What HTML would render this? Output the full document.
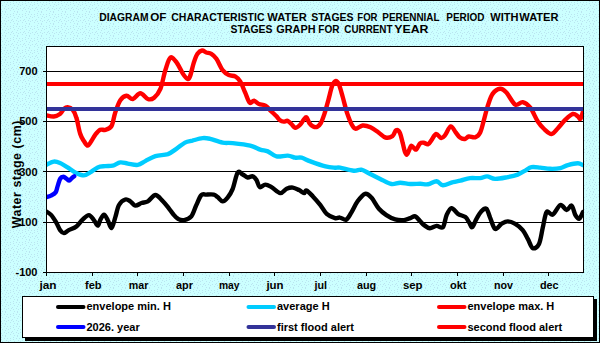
<!DOCTYPE html>
<html><head><meta charset="utf-8"><style>
html,body{margin:0;padding:0;width:600px;height:343px;overflow:hidden;background:#fff}
svg{display:block}
text{font-family:"Liberation Sans",sans-serif;font-weight:bold}
</style></head><body>
<svg width="600" height="343" viewBox="0 0 600 343">
<defs>
<pattern id="dots" width="12" height="12" patternUnits="userSpaceOnUse">
<rect width="12" height="12" fill="#CCFFFF"/>
<rect x="5" y="0" width="1" height="1" fill="#BAE4F0"/><rect x="1" y="1" width="1" height="1" fill="#BAE4F0"/><rect x="4" y="2" width="1" height="1" fill="#BAE4F0"/><rect x="7" y="2" width="1" height="1" fill="#BAE4F0"/><rect x="10" y="2" width="1" height="1" fill="#BAE4F0"/><rect x="1" y="3" width="1" height="1" fill="#BAE4F0"/><rect x="6" y="4" width="1" height="1" fill="#BAE4F0"/><rect x="10" y="4" width="1" height="1" fill="#BAE4F0"/><rect x="2" y="5" width="1" height="1" fill="#BAE4F0"/><rect x="8" y="5" width="1" height="1" fill="#BAE4F0"/><rect x="5" y="6" width="1" height="1" fill="#BAE4F0"/><rect x="0" y="7" width="1" height="1" fill="#BAE4F0"/><rect x="4" y="8" width="1" height="1" fill="#BAE4F0"/><rect x="8" y="8" width="1" height="1" fill="#BAE4F0"/><rect x="11" y="8" width="1" height="1" fill="#BAE4F0"/><rect x="1" y="9" width="1" height="1" fill="#BAE4F0"/><rect x="6" y="9" width="1" height="1" fill="#BAE4F0"/><rect x="10" y="10" width="1" height="1" fill="#BAE4F0"/><rect x="2" y="11" width="1" height="1" fill="#BAE4F0"/><rect x="5" y="11" width="1" height="1" fill="#BAE4F0"/>
</pattern>
<clipPath id="plot"><rect x="46" y="46" width="537" height="226"/></clipPath>
</defs>
<rect x="0" y="0" width="600" height="343" fill="url(#dots)"/>
<rect x="0.5" y="0.5" width="599" height="342" fill="none" stroke="#000" stroke-width="1"/>
<g font-size="10.5" fill="#000">
<text x="99.30" y="20.5" textLength="49.20" lengthAdjust="spacingAndGlyphs">DIAGRAM</text>
<text x="150.30" y="20.5" textLength="16.20" lengthAdjust="spacingAndGlyphs">OF</text>
<text x="171.30" y="20.5" textLength="93.20" lengthAdjust="spacingAndGlyphs">CHARACTERISTIC</text>
<text x="267.30" y="20.5" textLength="39.40" lengthAdjust="spacingAndGlyphs">WATER</text>
<text x="311.30" y="20.5" textLength="42.20" lengthAdjust="spacingAndGlyphs">STAGES</text>
<text x="357.30" y="20.5" textLength="20.20" lengthAdjust="spacingAndGlyphs">FOR</text>
<text x="382.30" y="20.5" textLength="57.20" lengthAdjust="spacingAndGlyphs">PERENNIAL</text>
<text x="446.30" y="20.5" textLength="38.20" lengthAdjust="spacingAndGlyphs">PERIOD</text>
<text x="490.30" y="20.5" textLength="28.20" lengthAdjust="spacingAndGlyphs">WITH</text>
<text x="519.30" y="20.5" textLength="39.20" lengthAdjust="spacingAndGlyphs">WATER</text>
<text x="230.50" y="32.5" textLength="42.00" lengthAdjust="spacingAndGlyphs">STAGES</text>
<text x="276.30" y="32.5" textLength="39.20" lengthAdjust="spacingAndGlyphs">GRAPH</text>
<text x="318.30" y="32.5" textLength="21.20" lengthAdjust="spacingAndGlyphs">FOR</text>
<text x="344.30" y="32.5" textLength="48.20" lengthAdjust="spacingAndGlyphs">CURRENT</text>
<text x="394.30" y="32.5" textLength="34.20" lengthAdjust="spacingAndGlyphs">YEAR</text>

</g>
<rect x="46" y="46" width="537" height="226" fill="#fff"/>
<line x1="46" y1="71.5" x2="583" y2="71.5" stroke="#000" stroke-width="1"/>
<line x1="43" y1="71.5" x2="46" y2="71.5" stroke="#000" stroke-width="1"/>
<line x1="46" y1="121.5" x2="583" y2="121.5" stroke="#000" stroke-width="1"/>
<line x1="43" y1="121.5" x2="46" y2="121.5" stroke="#000" stroke-width="1"/>
<line x1="46" y1="171.5" x2="583" y2="171.5" stroke="#000" stroke-width="1"/>
<line x1="43" y1="171.5" x2="46" y2="171.5" stroke="#000" stroke-width="1"/>
<line x1="46" y1="222.5" x2="583" y2="222.5" stroke="#000" stroke-width="1"/>
<line x1="43" y1="222.5" x2="46" y2="222.5" stroke="#000" stroke-width="1"/>
<line x1="43" y1="272.5" x2="46" y2="272.5" stroke="#000" stroke-width="1"/>

<g clip-path="url(#plot)" fill="none" stroke-linejoin="round" stroke-linecap="round" stroke-width="4.4">
<path d="M46.0 211.3 C46.9 211.9 49.6 213.2 51.3 215.1 C53.0 217.0 54.8 220.1 56.3 222.6 C57.8 225.1 58.9 228.3 60.1 230.1 C61.4 231.8 62.3 233.1 63.8 233.1 C65.2 233.1 66.7 231.2 68.8 230.1 C70.9 229.0 74.1 228.2 76.4 226.4 C78.7 224.7 80.5 221.5 82.6 219.6 C84.7 217.7 87.0 215.0 88.9 215.1 C90.8 215.2 92.4 218.3 93.9 220.1 C95.4 221.8 96.7 225.6 97.7 225.6 C98.8 225.6 99.2 221.9 100.2 220.1 C101.2 218.3 102.8 214.6 104.0 214.6 C105.2 214.6 106.5 217.8 107.7 220.1 C109.0 222.3 110.2 228.5 111.5 228.1 C112.8 227.7 114.0 221.4 115.2 217.6 C116.5 213.8 117.3 208.0 119.0 205.0 C120.7 202.0 123.4 200.1 125.3 199.5 C127.2 198.9 128.6 200.3 130.3 201.3 C132.0 202.3 133.4 205.3 135.3 205.6 C137.2 205.9 139.5 203.7 141.6 203.0 C143.7 202.3 145.6 202.6 147.9 201.3 C150.2 200.0 152.9 195.0 155.4 195.0 C157.9 195.0 160.6 199.0 162.9 201.3 C165.2 203.6 167.5 206.7 169.2 208.8 C170.9 210.9 171.4 212.1 172.9 213.8 C174.4 215.5 176.1 217.8 178.0 218.8 C179.9 219.9 182.0 220.5 184.2 220.1 C186.4 219.7 189.3 218.9 191.3 216.4 C193.3 213.9 194.6 208.7 196.3 205.1 C198.0 201.5 199.6 196.8 201.3 195.1 C203.0 193.3 204.2 194.7 206.3 194.6 C208.4 194.5 211.9 194.2 213.8 194.6 C215.7 195.0 216.1 196.0 217.6 197.1 C219.1 198.2 220.9 201.3 222.6 201.4 C224.3 201.5 225.9 199.7 227.6 197.6 C229.3 195.5 231.0 193.0 232.7 188.8 C234.4 184.6 236.0 174.9 237.7 172.5 C239.4 170.1 241.0 173.7 242.7 174.5 C244.4 175.3 246.0 177.2 247.7 177.5 C249.4 177.8 251.2 175.9 252.7 176.3 C254.2 176.7 255.3 178.2 256.5 180.0 C257.7 181.8 258.2 186.3 259.7 187.1 C261.2 187.9 263.3 184.6 265.3 184.6 C267.3 184.6 269.0 185.7 271.5 187.1 C274.0 188.5 277.8 192.8 280.3 193.1 C282.8 193.4 284.5 189.7 286.6 188.8 C288.7 187.9 290.7 187.4 292.8 187.6 C294.9 187.8 297.2 189.2 299.1 190.1 C301.0 191.0 302.9 193.0 304.1 193.1 C305.4 193.2 305.1 190.0 306.6 190.6 C308.1 191.2 310.6 194.0 312.9 196.4 C315.2 198.8 318.1 202.2 320.4 205.1 C322.7 208.0 324.3 211.7 326.7 213.9 C329.1 216.1 332.8 217.5 335.0 218.1 C337.2 218.7 338.1 217.3 340.0 217.6 C341.9 217.8 344.4 220.4 346.3 219.6 C348.2 218.8 349.4 215.6 351.3 212.6 C353.2 209.6 355.3 204.4 357.6 201.3 C359.9 198.2 362.8 194.4 365.1 193.8 C367.4 193.2 369.1 195.1 371.4 197.6 C373.7 200.1 376.4 205.9 378.9 208.8 C381.4 211.7 383.7 213.3 386.4 215.1 C389.1 216.9 392.3 218.6 395.2 219.4 C398.1 220.2 401.5 220.3 404.0 220.1 C406.5 219.9 408.4 218.7 410.3 218.1 C412.2 217.5 413.6 215.8 415.3 216.4 C417.0 217.0 418.8 220.0 420.3 221.4 C421.8 222.8 422.5 224.0 424.1 225.1 C425.7 226.2 427.7 228.1 429.8 228.2 C431.9 228.3 434.4 226.1 436.6 225.9 C438.8 225.7 441.2 229.0 442.9 227.2 C444.6 225.4 445.2 218.3 446.6 215.1 C448.1 211.9 449.7 208.3 451.6 208.1 C453.5 207.9 455.6 212.4 457.9 213.9 C460.2 215.4 463.5 215.7 465.4 217.1 C467.3 218.5 468.0 220.9 469.2 222.6 C470.4 224.3 471.1 227.7 472.3 227.1 C473.5 226.5 475.0 221.4 476.5 218.8 C478.0 216.2 479.8 213.0 481.4 211.3 C483.0 209.6 484.9 207.8 486.4 208.8 C487.8 209.9 488.7 214.2 490.1 217.6 C491.6 220.9 493.2 227.8 495.1 228.9 C497.0 230.0 499.3 225.2 501.4 223.9 C503.5 222.7 505.4 221.4 507.7 221.4 C510.0 221.4 512.7 222.5 515.2 223.9 C517.7 225.3 520.6 227.6 522.7 230.1 C524.8 232.6 526.1 235.9 527.8 238.9 C529.5 241.9 530.9 247.4 532.8 248.2 C534.7 249.0 537.3 247.3 539.0 243.9 C540.7 240.5 541.5 232.9 542.8 227.6 C544.1 222.3 544.9 214.3 546.6 212.1 C548.3 209.9 550.5 215.8 552.8 214.6 C555.1 213.4 558.1 205.8 560.4 205.0 C562.7 204.2 564.7 210.0 566.6 210.1 C568.5 210.2 570.1 204.8 571.6 205.6 C573.1 206.4 574.1 212.9 575.4 215.1 C576.7 217.3 577.9 219.3 579.2 218.8 C580.5 218.3 582.4 213.2 583.0 212.1" stroke="#000"/>
<path d="M46.0 164.9 C47.3 164.3 51.5 161.9 53.8 161.6 C56.1 161.3 57.7 162.0 60.0 163.0 C62.3 164.0 65.1 165.8 67.6 167.4 C70.1 169.0 72.4 171.1 75.1 172.4 C77.8 173.7 81.4 175.4 83.9 175.4 C86.4 175.4 87.9 173.7 90.2 172.4 C92.5 171.1 95.2 168.5 97.7 167.4 C100.2 166.3 102.7 166.4 105.2 166.1 C107.7 165.8 110.2 166.2 112.7 165.6 C115.2 165.0 117.8 162.7 120.3 162.4 C122.8 162.1 124.9 163.2 127.8 163.6 C130.7 164.0 134.9 165.3 137.8 164.9 C140.7 164.5 142.4 162.6 145.3 161.1 C148.2 159.6 151.6 157.3 155.4 156.1 C159.2 154.9 164.4 155.3 167.9 154.1 C171.4 152.8 173.8 150.5 176.7 148.6 C179.5 146.7 182.4 143.9 185.0 142.6 C187.6 141.3 189.6 141.3 192.5 140.6 C195.4 139.8 199.7 138.4 202.6 138.1 C205.5 137.8 206.8 138.1 210.1 138.8 C213.4 139.6 218.8 141.9 222.6 142.6 C226.4 143.3 228.1 142.6 232.7 143.1 C237.3 143.6 245.6 144.5 250.2 145.6 C254.8 146.7 257.3 148.6 260.2 149.6 C263.1 150.6 265.1 150.3 267.8 151.4 C270.5 152.5 273.2 155.7 276.5 156.4 C279.8 157.1 284.7 155.4 287.8 155.6 C290.9 155.8 293.1 157.3 295.4 157.7 C297.7 158.0 299.1 157.1 301.6 157.7 C304.1 158.3 306.4 159.9 310.4 161.4 C314.4 162.9 321.4 165.4 325.5 166.4 C329.6 167.4 332.6 167.5 335.0 167.7 C337.4 167.9 336.9 167.2 340.0 167.7 C343.1 168.2 350.2 170.4 353.8 170.7 C357.4 171.0 358.7 169.2 361.4 169.7 C364.1 170.2 367.0 172.4 370.1 173.9 C373.2 175.4 376.6 177.2 380.2 178.9 C383.8 180.6 388.2 183.4 391.5 184.0 C394.8 184.6 397.1 182.7 400.2 182.7 C403.3 182.7 406.9 183.8 410.3 184.0 C413.7 184.2 417.4 183.8 420.3 183.8 C423.2 183.9 425.3 184.7 428.0 184.3 C430.7 183.9 434.1 181.2 436.6 181.3 C439.1 181.5 440.2 185.0 442.9 185.2 C445.6 185.3 450.0 182.9 452.9 182.2 C455.8 181.4 457.5 181.4 460.4 180.7 C463.3 180.0 466.8 178.5 470.1 178.1 C473.4 177.7 477.3 178.4 480.1 178.1 C482.9 177.8 484.6 176.3 487.1 176.4 C489.6 176.5 491.7 178.8 495.1 178.9 C498.5 179.0 503.9 177.8 507.7 177.1 C511.5 176.4 514.8 175.7 517.7 174.6 C520.6 173.5 522.9 171.8 525.2 170.6 C527.5 169.3 529.0 167.6 531.5 167.1 C534.0 166.6 537.2 167.3 540.3 167.6 C543.4 167.9 546.9 168.7 550.3 168.8 C553.6 168.9 557.5 168.7 560.4 168.1 C563.3 167.5 565.0 165.9 567.9 165.1 C570.8 164.3 575.4 163.3 577.9 163.3 C580.4 163.3 582.1 164.8 583.0 165.1" stroke="#00CCFF"/>
<path d="M46.0 115.2 C47.3 115.4 51.5 116.7 53.8 116.5 C56.1 116.3 58.3 115.2 60.0 114.0 C61.7 112.8 62.5 110.1 63.8 109.0 C65.1 107.9 66.1 107.1 67.6 107.2 C69.1 107.3 71.1 107.9 72.6 109.7 C74.1 111.5 75.2 113.8 76.4 117.8 C77.7 121.8 78.8 129.6 80.1 133.5 C81.3 137.4 82.6 139.0 83.9 141.0 C85.2 143.0 86.5 145.6 87.7 145.6 C89.0 145.6 90.2 142.8 91.4 141.0 C92.7 139.2 93.7 136.7 95.2 134.8 C96.7 132.9 98.5 130.6 100.2 129.8 C101.9 129.0 103.3 130.4 105.2 129.8 C107.1 129.2 109.8 128.8 111.5 126.0 C113.2 123.2 113.7 117.0 115.2 112.7 C116.7 108.4 118.4 103.0 120.3 100.2 C122.2 97.4 124.4 95.9 126.5 95.7 C128.6 95.5 130.5 99.4 132.8 99.0 C135.1 98.6 137.8 93.2 140.3 93.2 C142.8 93.2 145.5 98.2 147.8 99.0 C150.1 99.8 152.0 99.4 154.1 97.7 C156.2 96.0 158.5 93.5 160.4 88.9 C162.3 84.3 163.7 75.2 165.4 70.0 C167.1 64.8 168.5 58.8 170.4 57.6 C172.3 56.4 174.6 59.9 176.7 62.6 C178.8 65.3 181.2 71.2 183.0 73.9 C184.8 76.6 186.3 78.5 187.5 78.9 C188.7 79.3 188.9 79.1 190.0 76.4 C191.1 73.7 192.6 66.4 193.8 62.6 C195.1 58.8 196.1 55.8 197.5 53.8 C198.9 51.8 200.6 50.7 202.1 50.5 C203.6 50.3 204.8 52.0 206.3 52.5 C207.8 53.0 209.6 52.8 211.3 53.8 C213.0 54.8 214.5 56.1 216.4 58.8 C218.3 61.5 220.5 67.4 222.6 70.1 C224.7 72.8 226.8 74.0 228.9 75.1 C231.0 76.1 233.3 75.4 235.2 76.4 C237.1 77.5 238.5 78.7 240.2 81.4 C241.9 84.1 243.6 89.2 245.2 92.7 C246.8 96.2 248.2 101.4 249.7 102.7 C251.2 104.0 252.4 100.5 254.0 100.7 C255.6 100.9 257.1 103.2 259.0 104.0 C260.9 104.8 263.2 104.5 265.3 105.7 C267.4 107.0 269.6 109.7 271.5 111.5 C273.4 113.3 275.1 114.8 276.5 116.3 C277.9 117.8 278.8 119.3 280.0 120.2 C281.2 121.1 282.5 121.5 283.8 121.6 C285.1 121.7 286.3 120.4 287.6 120.8 C288.9 121.2 290.1 122.8 291.4 124.0 C292.7 125.2 293.8 127.6 295.2 127.8 C296.6 128.0 298.5 126.3 299.9 125.0 C301.3 123.7 302.6 121.0 303.7 119.7 C304.8 118.4 305.6 116.8 306.5 117.4 C307.4 118.0 308.3 121.6 309.4 123.1 C310.5 124.6 311.9 125.9 313.2 126.5 C314.5 127.1 315.7 127.5 317.0 126.9 C318.3 126.3 319.6 125.3 320.8 123.1 C322.1 120.9 323.2 117.4 324.5 113.6 C325.8 109.8 327.0 104.9 328.3 100.3 C329.6 95.7 330.9 89.3 332.1 86.1 C333.3 82.9 334.3 81.3 335.4 81.0 C336.5 80.7 337.6 81.6 338.8 84.2 C340.0 86.8 341.2 91.6 342.6 96.5 C344.0 101.4 345.7 108.8 347.3 113.6 C348.9 118.3 350.6 122.5 352.0 125.0 C353.4 127.5 354.0 128.7 355.8 128.8 C357.6 128.9 360.2 125.8 362.6 125.5 C365.1 125.2 367.9 126.1 370.5 127.3 C373.1 128.5 376.0 130.8 378.5 132.5 C381.0 134.2 383.2 136.9 385.5 137.5 C387.8 138.1 390.6 137.3 392.4 136.1 C394.1 134.9 394.8 130.9 396.0 130.3 C397.2 129.7 398.6 130.4 399.7 132.5 C400.8 134.6 401.8 139.5 402.6 142.7 C403.5 145.8 404.1 149.4 404.8 151.4 C405.5 153.4 406.3 154.9 407.0 154.7 C407.7 154.5 408.5 151.5 409.2 150.0 C409.9 148.5 410.4 145.8 411.3 145.6 C412.2 145.3 413.5 147.9 414.3 148.5 C415.1 149.1 415.4 150.2 416.4 149.3 C417.4 148.5 418.9 144.5 420.1 143.4 C421.3 142.3 422.4 142.6 423.7 142.7 C425.0 142.8 426.8 144.7 428.1 144.2 C429.4 143.7 430.4 141.5 431.7 139.8 C433.0 138.1 434.5 134.3 436.1 134.0 C437.7 133.7 439.7 137.8 441.2 138.0 C442.7 138.2 443.3 137.3 444.9 135.4 C446.5 133.5 448.9 126.9 450.7 126.4 C452.5 125.9 454.2 130.6 455.8 132.5 C457.4 134.4 458.5 136.5 460.0 137.6 C461.5 138.7 463.5 139.2 465.0 139.0 C466.5 138.8 467.1 136.8 468.8 136.5 C470.5 136.2 473.2 137.9 475.1 137.3 C477.0 136.7 478.6 135.5 480.1 132.7 C481.6 129.8 482.6 124.6 483.9 120.2 C485.1 115.8 486.2 110.8 487.6 106.4 C489.1 102.0 490.5 96.8 492.6 93.9 C494.7 91.0 497.9 89.0 500.2 88.8 C502.5 88.6 503.9 90.0 506.4 92.6 C508.9 95.2 512.5 103.0 515.2 104.6 C517.9 106.2 520.2 101.6 522.7 102.1 C525.2 102.6 527.8 104.5 530.3 107.7 C532.8 110.9 535.5 118.0 537.8 121.5 C540.1 125.0 541.8 126.9 544.1 129.0 C546.4 131.1 549.3 134.1 551.6 134.0 C553.9 133.9 555.6 130.6 557.9 128.2 C560.2 125.8 562.9 122.1 565.4 119.7 C567.9 117.3 570.8 114.5 572.9 113.9 C575.0 113.4 576.6 115.6 577.9 116.4 C579.1 117.2 579.5 119.7 580.4 118.9 C581.2 118.1 582.6 112.7 583.0 111.4" stroke="#FF0000"/>
<path d="M46.0 197.3 C46.8 197.0 49.4 196.4 51.0 195.6 C52.6 194.8 54.6 194.0 55.7 192.3 C56.8 190.6 57.0 187.9 57.8 185.6 C58.6 183.3 59.3 180.0 60.3 178.5 C61.2 177.0 62.5 176.8 63.5 176.8 C64.5 176.8 65.5 178.0 66.4 178.6 C67.4 179.2 68.3 180.6 69.2 180.6 C70.1 180.6 70.8 179.0 71.6 178.3 C72.4 177.6 73.8 176.6 74.2 176.3" stroke="#0000FF"/>
<line x1="46" y1="109" x2="583" y2="109" stroke="#333399" stroke-width="4" stroke-linecap="butt"/>
<line x1="46" y1="84" x2="583" y2="84" stroke="#FF0000" stroke-width="4" stroke-linecap="butt"/>
</g>
<rect x="46.5" y="46.5" width="537" height="226" fill="none" stroke="#000" stroke-width="1"/>
<line x1="46.5" y1="272" x2="46.5" y2="276" stroke="#000" stroke-width="1"/>
<line x1="92.5" y1="272" x2="92.5" y2="276" stroke="#000" stroke-width="1"/>
<line x1="137.5" y1="272" x2="137.5" y2="276" stroke="#000" stroke-width="1"/>
<line x1="183.5" y1="272" x2="183.5" y2="276" stroke="#000" stroke-width="1"/>
<line x1="229.5" y1="272" x2="229.5" y2="276" stroke="#000" stroke-width="1"/>
<line x1="274.5" y1="272" x2="274.5" y2="276" stroke="#000" stroke-width="1"/>
<line x1="320.5" y1="272" x2="320.5" y2="276" stroke="#000" stroke-width="1"/>
<line x1="366.5" y1="272" x2="366.5" y2="276" stroke="#000" stroke-width="1"/>
<line x1="411.5" y1="272" x2="411.5" y2="276" stroke="#000" stroke-width="1"/>
<line x1="457.5" y1="272" x2="457.5" y2="276" stroke="#000" stroke-width="1"/>
<line x1="503.5" y1="272" x2="503.5" y2="276" stroke="#000" stroke-width="1"/>
<line x1="548.5" y1="272" x2="548.5" y2="276" stroke="#000" stroke-width="1"/>

<g font-size="11" fill="#000">
<text x="37.5" y="75" text-anchor="end">700</text>
<text x="37.5" y="125" text-anchor="end">500</text>
<text x="37.5" y="176" text-anchor="end">300</text>
<text x="37.5" y="226" text-anchor="end">100</text>
<text x="37.5" y="276" text-anchor="end">-100</text>

<text x="39.50" y="289" textLength="17.10" lengthAdjust="spacingAndGlyphs">jan</text>
<text x="85.00" y="289" textLength="16.60" lengthAdjust="spacingAndGlyphs">feb</text>
<text x="128.80" y="289" textLength="19.60" lengthAdjust="spacingAndGlyphs">mar</text>
<text x="176.00" y="289" textLength="16.90" lengthAdjust="spacingAndGlyphs">apr</text>
<text x="218.90" y="289" textLength="20.60" lengthAdjust="spacingAndGlyphs">may</text>
<text x="266.40" y="289" textLength="17.20" lengthAdjust="spacingAndGlyphs">jun</text>
<text x="314.60" y="289" textLength="12.52" lengthAdjust="spacingAndGlyphs">jul</text>
<text x="356.90" y="289" textLength="19.20" lengthAdjust="spacingAndGlyphs">aug</text>
<text x="402.92" y="289" textLength="19.70" lengthAdjust="spacingAndGlyphs">sep</text>
<text x="449.90" y="289" textLength="16.60" lengthAdjust="spacingAndGlyphs">okt</text>
<text x="493.90" y="289" textLength="19.00" lengthAdjust="spacingAndGlyphs">nov</text>
<text x="539.90" y="289" textLength="18.70" lengthAdjust="spacingAndGlyphs">dec</text>

</g>
<text transform="translate(20.8,228.3) rotate(-90)" font-size="12.4" letter-spacing="0.55" fill="#000">Water stage (cm)</text>
<rect x="25" y="299" width="572" height="42" fill="#000"/>
<rect x="22.5" y="296.5" width="571" height="41" fill="#fff" stroke="#000" stroke-width="1"/>
<g font-size="11" fill="#000">
<line x1="58" y1="307" x2="83.5" y2="307" stroke="#000000" stroke-width="4" stroke-linecap="round"/>
<text x="86.5" y="310">envelope min. H</text>
<line x1="248.5" y1="307" x2="274.0" y2="307" stroke="#00CCFF" stroke-width="4" stroke-linecap="round"/>
<text x="277.0" y="310">average H</text>
<line x1="439" y1="307" x2="464.5" y2="307" stroke="#FF0000" stroke-width="4" stroke-linecap="round"/>
<text x="467.5" y="310">envelope max. H</text>
<line x1="58" y1="327" x2="83.5" y2="327" stroke="#0000FF" stroke-width="4" stroke-linecap="round"/>
<text x="86.5" y="330.7">2026. year</text>
<line x1="248.5" y1="327" x2="274.0" y2="327" stroke="#333399" stroke-width="4" stroke-linecap="round"/>
<text x="277.0" y="330.7">first flood alert</text>
<line x1="439" y1="327" x2="464.5" y2="327" stroke="#FF0000" stroke-width="4" stroke-linecap="round"/>
<text x="467.5" y="330.7">second flood alert</text>

</g>
</svg>
</body></html>
